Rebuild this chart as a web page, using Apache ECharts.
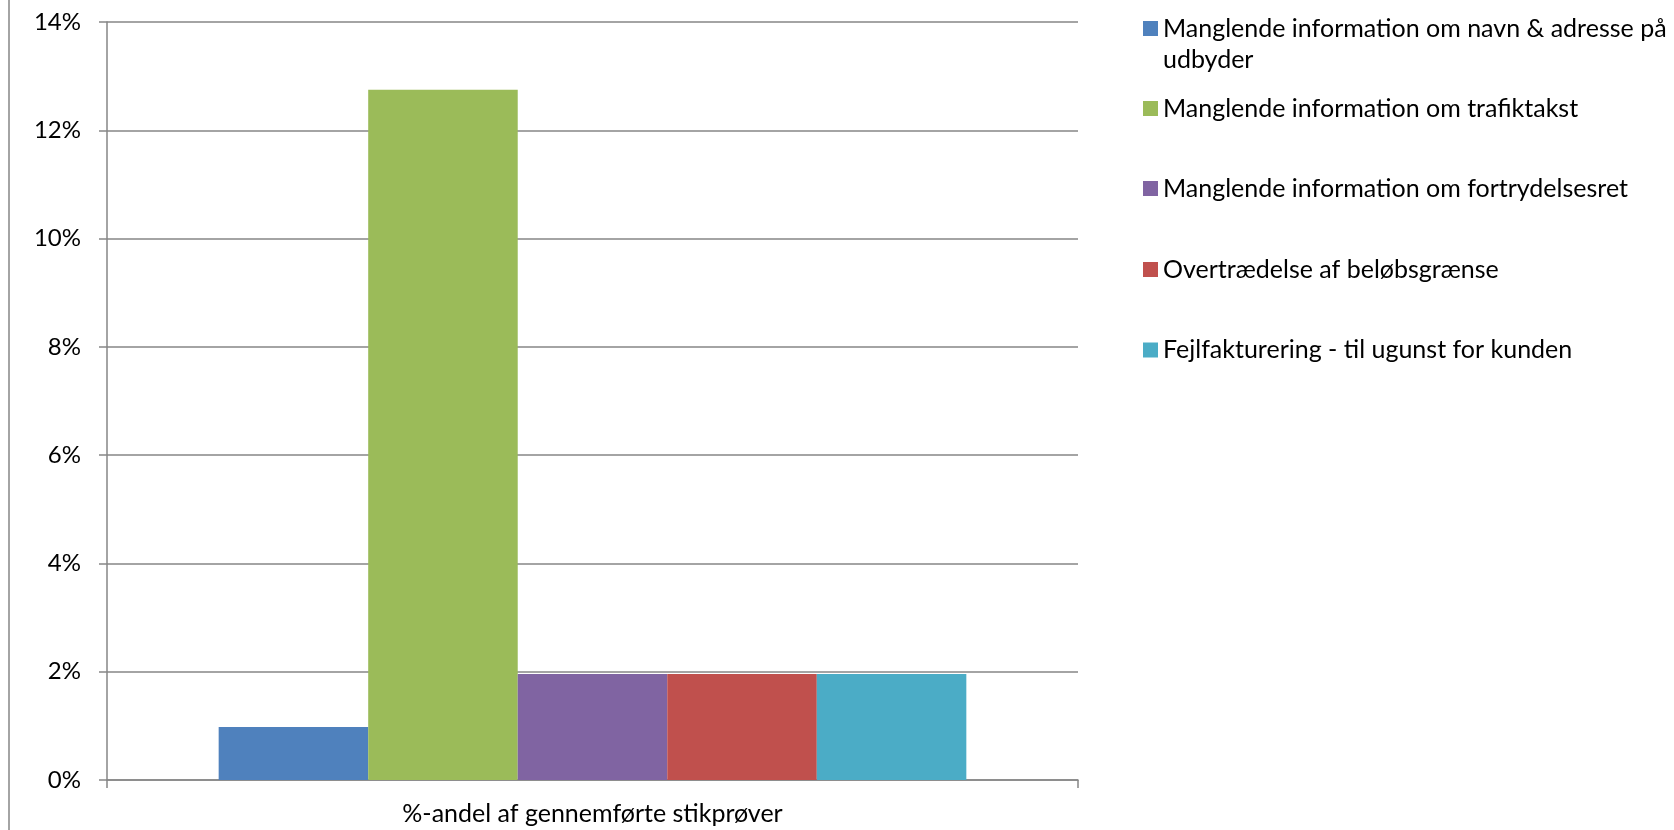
<!DOCTYPE html>
<html>
<head>
<meta charset="utf-8">
<script src="https://cdn.jsdelivr.net/npm/echarts@6/dist/echarts.min.js"></script>
<style>
html,body{margin:0;padding:0;background:#fff;}
#chart{width:1674px;height:830px;}
</style>
</head>
<body>
<div id="chart"></div>
<script>
var categories = ['%-andel af gennemførte stikprøver'];
var seriesNames = [
  'Manglende information om navn & adresse på udbyder',
  'Manglende information om trafiktakst',
  'Manglende information om fortrydelsesret',
  'Overtrædelse af beløbsgrænse',
  'Fejlfakturering - til ugunst for kunden'
];
var seriesValues = [0.98, 12.75, 1.96, 1.96, 1.96];
var seriesColors = ['#4F81BD', '#9BBB59', '#8064A2', '#C0504D', '#4BACC6'];
var yTicks = { min: 0, max: 14, interval: 2 };

var FONT = 'Lato';
var legendCenters = [28.5, 108.5, 188.5, 269.5, 350];
var wrapWord = 'udbyder';

var chart = echarts.init(document.getElementById('chart'), null, {renderer: 'canvas'});

var legends = seriesNames.map(function (name, i) {
  var lg = {
    data: [name],
    orient: 'vertical',
    left: 1143,
    top: legendCenters[i] - 15.5,
    itemWidth: 15,
    itemHeight: 15,
    icon: 'rect',
    padding: 0,
    selectedMode: false,
    textStyle: { fontFamily: FONT, fontSize: 25, color: '#000', lineHeight: 31 }
  };
  if (name.indexOf(' ' + wrapWord) > 0) {
    lg.formatter = function (n) { return n.replace(' ' + wrapWord, ''); };
  }
  return lg;
});

var option = {
  animation: false,
  backgroundColor: '#fff',
  legend: legends,
  grid: { left: 107, right: 596, top: 22, bottom: 50, containLabel: false },
  xAxis: {
    type: 'category',
    data: categories,
    axisLine: { lineStyle: { color: '#868686', width: 1.5 } },
    axisTick: { show: true, length: 8, lineStyle: { color: '#868686', width: 1.5 } },
    axisLabel: { fontFamily: FONT, fontSize: 25, color: '#000', margin: 21 }
  },
  yAxis: {
    type: 'value',
    min: yTicks.min,
    max: yTicks.max,
    interval: yTicks.interval,
    axisLine: { show: true, lineStyle: { color: '#868686', width: 1.5 } },
    axisTick: { show: true, length: 8, lineStyle: { color: '#868686', width: 1.5 } },
    splitLine: { show: true, lineStyle: { color: '#868686', width: 1.5 } },
    axisLabel: { fontFamily: FONT, fontSize: 24, color: '#000', margin: 26, formatter: '{value}%' }
  },
  graphic: [{
    type: 'line',
    shape: { x1: 9, y1: 0, x2: 9, y2: 830 },
    style: { stroke: '#868686', lineWidth: 1.5 }
  }, {
    type: 'text',
    left: 1163,
    top: legendCenters[0] + 31 - 15.5,
    style: { text: wrapWord, fontFamily: FONT, fontSize: 25, fill: '#000', lineHeight: 31 }
  }],
  series: seriesNames.map(function (name, i) {
    return {
      name: name,
      type: 'bar',
      data: [seriesValues[i]],
      barGap: '0%',
      barCategoryGap: '23%',
      itemStyle: { color: seriesColors[i] }
    };
  })
};
chart.setOption(option);
</script>
</body>
</html>
